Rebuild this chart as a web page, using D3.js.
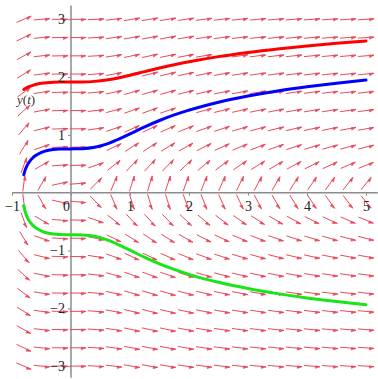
<!DOCTYPE html>
<html><head><meta charset="utf-8">
<script src="https://cdn.jsdelivr.net/npm/d3@7"></script>
<style>
html,body{margin:0;padding:0;background:#fff;}
svg{display:block;}
</style></head>
<body>
<svg id="chart" width="378" height="379"></svg>
<script>
// ---- data ----
const xTicks = [-1, 0, 1, 2, 3, 4, 5];
const yTicks = [-3, -2, -1, 1, 2, 3];
const xCols = [-0.8, -0.495, -0.189, 0.116, 0.421, 0.726, 1.032, 1.337, 1.642, 1.947, 2.253, 2.558, 2.863, 3.168, 3.474, 3.779, 4.084, 4.389, 4.695, 5.0];
const yRows = [-3, -2.684, -2.368, -2.053, -1.737, -1.421, -1.105, -0.789, -0.474, -0.158, 0.158, 0.474, 0.789, 1.105, 1.421, 1.737, 2.053, 2.368, 2.684, 3];
// slope dy/dt of each arrow, one row per yRows entry (bottom to top), one value per xCols entry
const slopes = [
 [-0.437,-0.093,-0.012,-0.0045,-0.055,-0.127,-0.169,-0.176,-0.166,-0.151,-0.136,-0.123,-0.112,-0.102,-0.094,-0.087,-0.080,-0.075,-0.070,-0.066],
 [-0.488,-0.104,-0.013,-0.005,-0.061,-0.142,-0.189,-0.196,-0.185,-0.168,-0.152,-0.137,-0.125,-0.114,-0.105,-0.097,-0.090,-0.084,-0.079,-0.074],
 [-0.554,-0.118,-0.015,-0.006,-0.070,-0.161,-0.214,-0.223,-0.210,-0.191,-0.172,-0.156,-0.141,-0.129,-0.119,-0.110,-0.102,-0.095,-0.089,-0.084],
 [-0.639,-0.136,-0.018,-0.007,-0.080,-0.186,-0.247,-0.257,-0.242,-0.220,-0.199,-0.180,-0.163,-0.149,-0.137,-0.127,-0.117,-0.110,-0.103,-0.096],
 [-0.755,-0.161,-0.021,-0.008,-0.095,-0.219,-0.292,-0.303,-0.286,-0.260,-0.235,-0.212,-0.193,-0.176,-0.162,-0.150,-0.139,-0.130,-0.121,-0.114],
 [-0.923,-0.196,-0.025,-0.009,-0.116,-0.268,-0.357,-0.371,-0.350,-0.318,-0.287,-0.260,-0.236,-0.215,-0.198,-0.183,-0.170,-0.158,-0.148,-0.139],
 [-1.186,-0.252,-0.033,-0.012,-0.149,-0.345,-0.459,-0.477,-0.450,-0.409,-0.369,-0.334,-0.303,-0.277,-0.254,-0.235,-0.218,-0.204,-0.191,-0.179],
 [-1.662,-0.354,-0.046,-0.017,-0.209,-0.483,-0.643,-0.668,-0.630,-0.573,-0.517,-0.468,-0.425,-0.388,-0.356,-0.330,-0.305,-0.285,-0.267,-0.251],
 [-2.766,-0.589,-0.076,-0.028,-0.348,-0.804,-1.070,-1.112,-1.049,-0.954,-0.861,-0.779,-0.707,-0.646,-0.593,-0.549,-0.508,-0.475,-0.445,-0.418],
 [-8.297,-1.766,-0.228,-0.085,-1.044,-2.411,-3.209,-3.335,-3.146,-2.861,-2.582,-2.335,-2.120,-1.937,-1.779,-1.645,-1.525,-1.424,-1.335,-1.253],
 [8.297,1.766,0.228,0.085,1.044,2.411,3.209,3.335,3.146,2.861,2.582,2.335,2.120,1.937,1.779,1.645,1.525,1.424,1.335,1.253],
 [2.766,0.589,0.076,0.028,0.348,0.804,1.070,1.112,1.049,0.954,0.861,0.779,0.707,0.646,0.593,0.549,0.508,0.475,0.445,0.418],
 [1.662,0.354,0.046,0.017,0.209,0.483,0.643,0.668,0.630,0.573,0.517,0.468,0.425,0.388,0.356,0.330,0.305,0.285,0.267,0.251],
 [1.186,0.252,0.033,0.012,0.149,0.345,0.459,0.477,0.450,0.409,0.369,0.334,0.303,0.277,0.254,0.235,0.218,0.204,0.191,0.179],
 [0.923,0.196,0.025,0.009,0.116,0.268,0.357,0.371,0.350,0.318,0.287,0.260,0.236,0.215,0.198,0.183,0.170,0.158,0.148,0.139],
 [0.755,0.161,0.021,0.008,0.095,0.219,0.292,0.303,0.286,0.260,0.235,0.212,0.193,0.176,0.162,0.150,0.139,0.130,0.121,0.114],
 [0.639,0.136,0.018,0.007,0.080,0.186,0.247,0.257,0.242,0.220,0.199,0.180,0.163,0.149,0.137,0.127,0.117,0.110,0.103,0.096],
 [0.554,0.118,0.015,0.006,0.070,0.161,0.214,0.223,0.210,0.191,0.172,0.156,0.141,0.129,0.119,0.110,0.102,0.095,0.089,0.084],
 [0.488,0.104,0.013,0.005,0.061,0.142,0.189,0.196,0.185,0.168,0.152,0.137,0.125,0.114,0.105,0.097,0.090,0.084,0.079,0.074],
 [0.437,0.093,0.012,0.0045,0.055,0.127,0.169,0.176,0.166,0.151,0.136,0.123,0.112,0.102,0.094,0.087,0.080,0.075,0.070,0.066]
];
// solution curves (t values shared, y values per curve)
const curveT = [-0.8,-0.78,-0.76,-0.75,-0.72,-0.7,-0.65,-0.6,-0.5,-0.4,-0.3,-0.2,0,0.2,0.4,0.6,0.8,1.0,1.25,1.5,1.75,2,2.5,3,3.5,4,4.5,5];
const redY   = [1.786,1.799,1.812,1.817,1.832,1.840,1.858,1.872,1.892,1.903,1.910,1.914,1.915,1.916,1.926,1.949,1.986,2.032,2.095,2.157,2.214,2.265,2.354,2.427,2.488,2.540,2.585,2.625];
const blueY  = [0.311,0.382,0.436,0.458,0.513,0.543,0.601,0.642,0.697,0.729,0.746,0.755,0.758,0.762,0.785,0.840,0.922,1.018,1.139,1.249,1.345,1.428,1.565,1.672,1.760,1.832,1.895,1.949];
const greenY = [-0.224,-0.315,-0.378,-0.404,-0.466,-0.498,-0.561,-0.605,-0.663,-0.696,-0.714,-0.723,-0.727,-0.731,-0.755,-0.812,-0.897,-0.995,-1.118,-1.230,-1.327,-1.412,-1.550,-1.658,-1.746,-1.820,-1.883,-1.937];
const curveNames = ["red", "blue", "green"];
const curveColors = ["#ff0000", "#0000ff", "#19e619"];
const xView = [-1, 5.2];
const yView = [-3.2, 3.24];

// ---- drawing ----
const svg = d3.select("#chart");
const x = d3.scaleLinear().domain([-1, 5]).range([12, 366]);
const y = d3.scaleLinear().domain([-3, 3]).range([366.1, 19.3]);

const axisColor = "#8c8c8c";
const gAxes = svg.append("g");
gAxes.append("line").attr("x1", x(xView[0])).attr("x2", x(xView[1]))
  .attr("y1", y(0)).attr("y2", y(0)).attr("stroke", axisColor).attr("stroke-width", 1.5);
gAxes.append("line").attr("x1", x(0)).attr("x2", x(0))
  .attr("y1", y(yView[1])).attr("y2", y(yView[0])).attr("stroke", axisColor).attr("stroke-width", 1.5);

// arrows
const L = 16, headL = 4.5, headW = 2;
const arrowColor = "#ea4a5c";
const gArr = svg.append("g");
yRows.forEach((yr, j) => {
  xCols.forEach((xc, i) => {
    const s = slopes[j][i];
    const cx = x(xc), cy = y(yr);
    const dx = x(xc + 1) - x(xc), dy = y(yr + s) - y(yr);
    const n = Math.hypot(dx, dy);
    const ux = dx / n, uy = dy / n;
    const x1 = cx - ux * L / 2, y1 = cy - uy * L / 2;
    const x2 = cx + ux * L / 2, y2 = cy + uy * L / 2;
    gArr.append("line").attr("x1", x1).attr("y1", y1).attr("x2", x2).attr("y2", y2)
      .attr("stroke", arrowColor).attr("stroke-width", 1);
    const bx = x2 - ux * headL, by = y2 - uy * headL;
    gArr.append("path")
      .attr("d", `M${x2},${y2}L${bx - uy * headW},${by + ux * headW}L${bx + uy * headW * 0.3},${by - ux * headW * 0.3}Z`)
      .attr("fill", arrowColor).attr("stroke", arrowColor).attr("stroke-width", 0.6);
  });
});

// curves
const line = d3.line().x(d => x(d[0])).y(d => y(d[1])).curve(d3.curveMonotoneX);
[redY, blueY, greenY].forEach((ys, k) => {
  svg.append("path").attr("class", curveNames[k])
    .attr("d", line(curveT.map((t, i) => [t, ys[i]])))
    .attr("fill", "none").attr("stroke", curveColors[k]).attr("stroke-width", 3)
    .attr("stroke-linecap", "round");
});

// axes ticks and labels
const font = "'Liberation Serif', 'Times New Roman', serif";
const fmt = d3.format("d");
const xAxis = svg.append("g").attr("transform", `translate(0,${y(0)})`)
  .call(d3.axisBottom(x).tickValues(xTicks).tickFormat(fmt).tickSize(3).tickPadding(5));
xAxis.select(".domain").remove();
xAxis.selectAll("line").attr("stroke", axisColor);
xAxis.selectAll("text").attr("font-family", font).attr("font-size", 14).attr("fill", "#222")
  .attr("dx", d => d === 0 ? -5 : 0);

const yAxis = svg.append("g").attr("transform", `translate(${x(0)},0)`)
  .call(d3.axisLeft(y).tickValues(yTicks).tickFormat(fmt).tickSize(3).tickPadding(3));
yAxis.select(".domain").remove();
yAxis.selectAll("line").attr("stroke", axisColor);
yAxis.selectAll("text").attr("font-family", font).attr("font-size", 14).attr("fill", "#222");

const lab = svg.append("text").attr("x", 17).attr("y", 104)
  .attr("font-family", font).attr("font-size", 13).attr("fill", "#333");
lab.append("tspan").attr("font-style", "italic").text("y");
lab.append("tspan").text("(");
lab.append("tspan").attr("font-style", "italic").text("t");
lab.append("tspan").text(")");
</script>
</body></html>
